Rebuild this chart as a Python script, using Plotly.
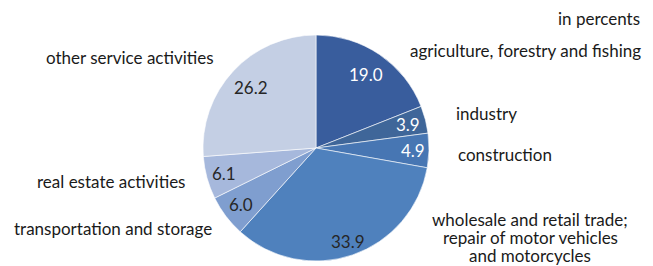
import math
import plotly.graph_objects as go

categories = [
    "agriculture, forestry and fishing",
    "industry",
    "construction",
    "wholesale and retail trade;<br>repair of motor vehicles<br>and motorcycles",
    "transportation and storage",
    "real estate activities",
    "other service activities",
]
values = [19.0, 3.9, 4.9, 33.9, 6.0, 6.1, 26.2]
value_labels = ["19.0", "3.9", "4.9", "33.9", "6.0", "6.1", "26.2"]
colors = ["#395d9d", "#3f6699", "#4776b3", "#4f81bd", "#7f9ecf", "#a6b8dc", "#c4cfe4"]
value_text_colors = ["white", "white", "white", "#262626", "#262626", "#262626", "#262626"]
value_radius_frac = [0.79, 0.84, 0.86, 0.87, 0.83, 0.84, 0.79]

# outside category label centres (pixels, centre of first line)
label_pos = [
    (525, 50),
    (487, 113),
    (505, 154),
    (530, 219),
    (113, 228),
    (111, 181),
    (130, 57),
]

W, H = 653, 266
CX, CY, R = 316, 148, 113
FONT = "Lato"
LINE_STEP = 18.2

fig = go.Figure(go.Pie(
    values=values,
    labels=[c.replace("<br>", " ") for c in categories],
    sort=False,
    direction="clockwise",
    rotation=0,
    marker=dict(colors=colors, line=dict(color="white", width=0.6)),
    textinfo="none",
    hoverinfo="label+value",
    domain=dict(x=[(CX - R) / W, (CX + R) / W], y=[1 - (CY + R) / H, 1 - (CY - R) / H]),
    showlegend=False,
))

annotations = []
total = sum(values)
cum = 0.0
for v, lab, tc, f in zip(values, value_labels, value_text_colors, value_radius_frac):
    mid = (cum + v / 2) / total * 2 * math.pi
    cum += v
    px = CX + R * f * math.sin(mid)
    py = CY - R * f * math.cos(mid)
    annotations.append(dict(x=px / W, y=1 - py / H, xref="paper", yref="paper",
                            xanchor="center", yanchor="middle", borderpad=0,
                            text=lab, showarrow=False,
                            font=dict(family=FONT, size=17, color=tc)))

for cat, (lx, ly) in zip(categories, label_pos):
    for i, line in enumerate(cat.split("<br>")):
        annotations.append(dict(x=lx / W, y=1 - (ly + i * LINE_STEP) / H,
                                xref="paper", yref="paper",
                                xanchor="center", yanchor="middle", borderpad=0,
                                text=line, showarrow=False, align="center",
                                font=dict(family=FONT, size=17, color="#1a1a1a")))

annotations.append(dict(x=641 / W, y=1 - 18 / H, xref="paper", yref="paper",
                        xanchor="right", yanchor="middle", borderpad=0,
                        text="in percents", showarrow=False,
                        font=dict(family=FONT, size=17, color="#1a1a1a")))

fig.update_layout(
    width=W, height=H,
    margin=dict(l=0, r=0, t=0, b=0),
    paper_bgcolor="white",
    plot_bgcolor="white",
    annotations=annotations,
)

fig.write_html("out.html", config={"displayModeBar": False},
               post_script="document.body.style.margin='0';")
